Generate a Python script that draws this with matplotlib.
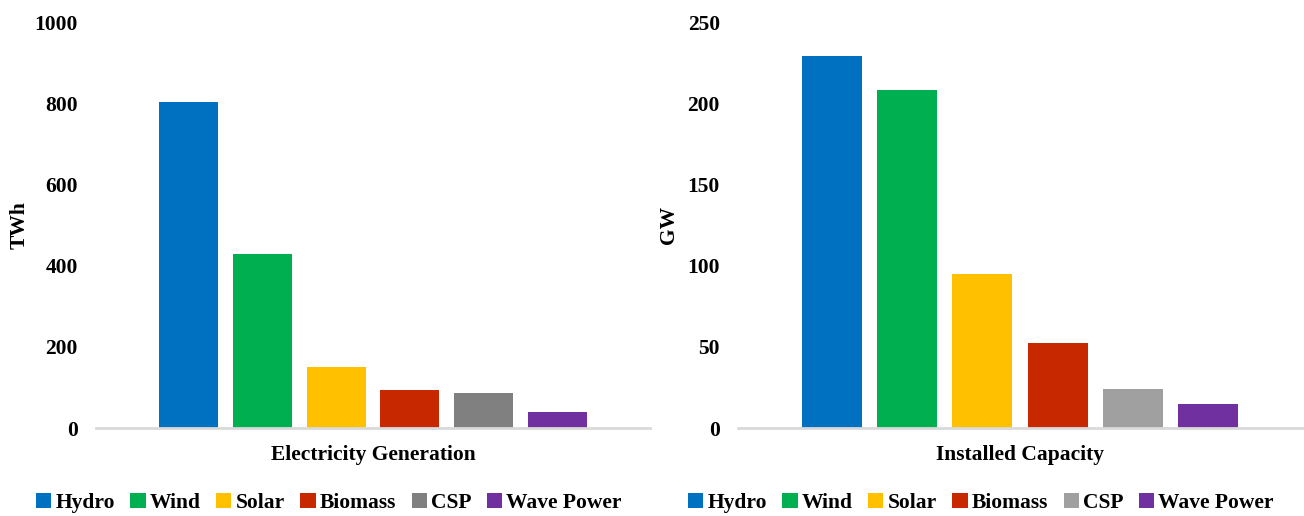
import matplotlib
matplotlib.use("Agg")
import matplotlib.pyplot as plt
from matplotlib.patches import Patch

plt.rcParams['font.family'] = ['Liberation Serif', 'DejaVu Serif']
plt.rcParams['font.weight'] = 'bold'

sources = ["Hydro", "Wind", "Solar", "Biomass", "CSP", "Wave Power"]
generation_twh = [804, 428, 150, 93, 86, 40]
capacity_gw = [229, 208, 95, 52.5, 24, 14.5]

colors_gen = ["#0070C0", "#00B050", "#FFC000", "#C82800", "#808080", "#7030A0"]
colors_cap = ["#0070C0", "#00B050", "#FFC000", "#C82800", "#A0A0A0", "#7030A0"]

gen_ticks = [0, 200, 400, 600, 800, 1000]
cap_ticks = [0, 50, 100, 150, 200, 250]

FS = 15.5

fig = plt.figure(figsize=(13.04, 5.16), dpi=100)
ax1 = fig.add_axes([96 / 1304, 1 - 428 / 516, 554 / 1304, 406 / 516])
ax2 = fig.add_axes([738 / 1304, 1 - 428 / 516, 564 / 1304, 406 / 516])


def panel(ax, values, colors, ticks, ylabel, xlabel, ylabel_x, legend_x):
    x = list(range(len(values)))
    ax.bar(x, values, width=0.8, color=colors, zorder=2)
    ax.set_xlim(-1.25, len(values) - 1 + 1.25)
    ax.set_ylim(0, ticks[-1])
    ax.set_yticks(ticks)
    ax.set_yticklabels([str(t) for t in ticks], fontsize=FS, fontweight='bold')
    ax.set_xticks([])
    for s in ["top", "right", "left"]:
        ax.spines[s].set_visible(False)
    ax.spines["bottom"].set_color("#D9D9D9")
    ax.spines["bottom"].set_linewidth(2)
    ax.spines["bottom"].set_zorder(3)
    ax.tick_params(axis='y', length=0, pad=13)
    ax.set_ylabel(ylabel, fontsize=FS, fontweight='bold')
    ax.yaxis.set_label_coords(ylabel_x, 0.5)
    ax.set_xlabel(xlabel, fontsize=FS, fontweight='bold', labelpad=12)
    handles = [Patch(facecolor=c, edgecolor='none') for c in colors]
    fig.legend(handles, sources, loc='center', bbox_to_anchor=(legend_x, 1 - 503 / 516),
               ncol=len(sources), frameon=False, prop={'size': FS, 'weight': 'bold'},
               handlelength=0.7, handleheight=0.7, handletextpad=0.2,
               columnspacing=0.72, borderaxespad=0)


panel(ax1, generation_twh, colors_gen, gen_ticks, "TWh", "Electricity Generation",
      -0.12, 329 / 1304)
panel(ax2, capacity_gw, colors_cap, cap_ticks, "GW", "Installed Capacity",
      -0.104, 981 / 1304)

fig.savefig("out.png", dpi=100)
